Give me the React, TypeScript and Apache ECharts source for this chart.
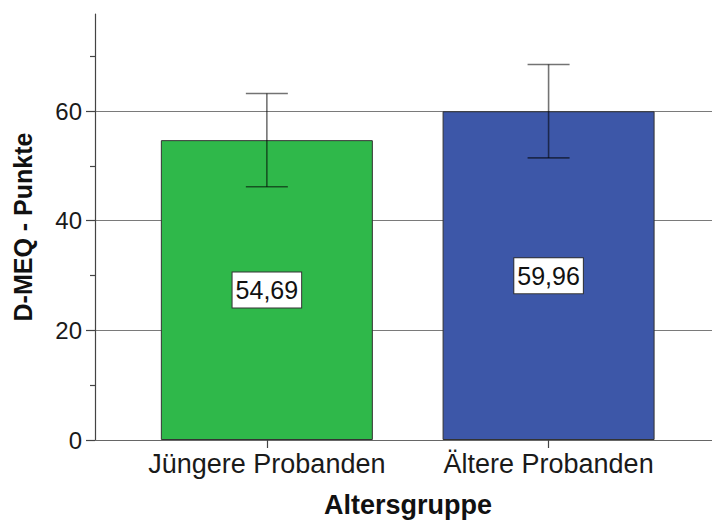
import React, { useEffect, useRef } from "react";
import * as echarts from "echarts";

const categories = ["Jüngere Probanden", "Ältere Probanden"];
const categoryPositions = [1, 2];
const meanValues = [54.69, 59.96];
const errLow = [46.2, 51.45];
const errHigh = [63.2, 68.5];
const barColors = ["#2fb84a", "#3d57a8"];
const yMajorTicks = [0, 20, 40, 60];
const yMinorTicks = [10, 30, 50, 70];
const yMax = 77.7;
const xMin = 0.39;
const xMax = 2.612;

const FONT = "'Liberation Sans', Arial, sans-serif";

export default function App() {
  const ref = useRef<HTMLDivElement>(null);
  useEffect(() => {
    if (!ref.current) return;
    const chart = echarts.init(ref.current, null, { renderer: "svg" });
    const barData = categoryPositions.map((x, i) => ({
      value: [x, meanValues[i]],
      itemStyle: { color: barColors[i] },
    }));
    const errData = categoryPositions.map((x, i) => [x, errLow[i], errHigh[i]]);
    chart.setOption({
      animation: false,
      backgroundColor: "#ffffff",
      textStyle: { fontFamily: FONT },
      grid: { left: 95, right: 0, top: 14, bottom: 80.3 },
      xAxis: [
        {
          type: "value",
          min: xMin,
          max: xMax,
          position: "bottom",
          name: "Altersgruppe",
          nameLocation: "middle",
          nameGap: 51,
          nameTextStyle: { fontFamily: FONT, fontSize: 27, fontWeight: "bold", color: "#111" },
          axisLine: { show: true, lineStyle: { color: "#444", width: 1.2 } },
          axisTick: {
            show: true,
            length: 8,
            customValues: categoryPositions,
            lineStyle: { color: "#444", width: 1.2 },
          },
          axisLabel: {
            show: true,
            customValues: categoryPositions,
            margin: 10,
            fontFamily: FONT,
            fontSize: 27,
            color: "#1a1a1a",
            formatter: (v: number) => {
              const idx = categoryPositions.indexOf(Math.round(v));
              return idx >= 0 ? categories[idx] : "";
            },
          },
          splitLine: { show: false },
        },
        {
          type: "value",
          min: xMin,
          max: xMax,
          position: "top",
          axisLine: { show: true, lineStyle: { color: "#666", width: 1.2 } },
          axisTick: { show: false },
          axisLabel: { show: false },
          splitLine: { show: false },
        },
      ],
      yAxis: [
        {
          type: "value",
          min: 0,
          max: yMax,
          name: "D-MEQ - Punkte",
          nameLocation: "middle",
          nameGap: 60,
          nameTextStyle: { fontFamily: FONT, fontSize: 25, fontWeight: "bold", color: "#111" },
          axisLine: { show: true, lineStyle: { color: "#444", width: 1.2 } },
          axisTick: {
            show: true,
            length: 9,
            customValues: yMajorTicks,
            lineStyle: { color: "#444", width: 1.2 },
          },
          axisLabel: {
            show: true,
            customValues: yMajorTicks,
            margin: 13,
            fontFamily: FONT,
            fontSize: 24,
            color: "#1a1a1a",
          },
          splitLine: { show: true, lineStyle: { color: "#7a7a7a", width: 1.2 } },
        },
        {
          type: "value",
          min: 0,
          max: yMax,
          position: "left",
          axisLine: { show: false },
          axisTick: {
            show: true,
            length: 5,
            customValues: yMinorTicks,
            lineStyle: { color: "#444", width: 1.2 },
          },
          axisLabel: { show: false },
          splitLine: { show: false },
        },
      ],
      series: [
        {
          type: "bar",
          xAxisIndex: 0,
          yAxisIndex: 0,
          data: barData,
          barWidth: 212,
          itemStyle: { borderColor: "#333", borderWidth: 1 },
          label: {
            show: true,
            position: "inside",
            formatter: (p: any) => String(p.value[1].toFixed(2)).replace(".", ","),
            fontFamily: FONT,
            fontSize: 25,
            color: "#111",
            backgroundColor: "#ffffff",
            borderColor: "#333",
            borderWidth: 1,
            padding: [6, 3, 4, 3],
          },
          z: 2,
        },
        {
          type: "custom",
          xAxisIndex: 0,
          yAxisIndex: 0,
          data: errData,
          clip: false,
          z: 3,
          renderItem: (params: any, api: any) => {
            const x = api.value(0);
            const lo = api.coord([x, api.value(1)]);
            const hi = api.coord([x, api.value(2)]);
            const half = 21;
            const style = { stroke: "rgba(0,0,0,0.55)", lineWidth: 1.6 };
            return {
              type: "group",
              children: [
                { type: "line", shape: { x1: lo[0], y1: lo[1], x2: hi[0], y2: hi[1] }, style },
                { type: "line", shape: { x1: hi[0] - half, y1: hi[1], x2: hi[0] + half, y2: hi[1] }, style },
                { type: "line", shape: { x1: lo[0] - half, y1: lo[1], x2: lo[0] + half, y2: lo[1] }, style },
              ],
            };
          },
        },
      ],
    });
    return () => chart.dispose();
  }, []);
  return (
    <div
      style={{
        position: "absolute",
        left: 0,
        top: 0,
        width: 712,
        height: 523,
        overflow: "hidden",
        background: "#fff",
      }}
    >
      <div ref={ref} style={{ width: 721, height: 523 }} />
    </div>
  );
}
